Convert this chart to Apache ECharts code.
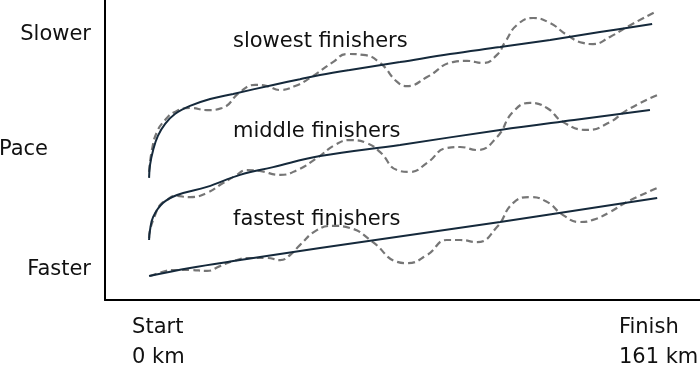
<!DOCTYPE html>
<html>
<head>
<meta charset="utf-8">
<script src="https://cdn.jsdelivr.net/npm/echarts@6/dist/echarts.min.js"></script>
<style>html,body{margin:0;padding:0;background:#fff;}#c{width:700px;height:365px;}</style>
</head>
<body>
<div id="c"></div>
<script>
// ---- data (distance in km, pace in arbitrary units: higher = slower) ----
const seriesNames = ['slowest finishers', 'middle finishers', 'fastest finishers'];

const slowestTrend = [[0,40.7],[0.3,45],[1.3,50],[2.8,54.7],[5.1,58.7],[8.2,62],[13,64.7],[19.4,67],[26.7,68.7],[39.4,71.7],[47.9,73.6],[54.3,75],[63.8,76.7],[79.7,79.3],[95.6,82],[111.5,84.3],[127.4,86.7],[143.2,89.3],[159.8,92]];
const slowestActual = [[0,42.7],[0.9,50],[2.5,56],[5.1,60],[8.2,62.7],[13,64],[18.4,63.3],[23.2,64],[28.9,69.3],[33.7,71.7],[37.5,71.3],[41.6,70],[46.4,71.3],[51.1,74],[58.4,79.3],[62.9,82],[68,81.7],[73.4,79],[78.8,72.7],[81.9,71.3],[88.3,74.3],[96.5,79.3],[101,79.7],[106.1,79],[110.5,81.7],[113.1,86],[116.9,91.7],[122,94],[127.4,92.3],[132.8,88.3],[137.8,85.7],[141,85.3],[146.4,87.7],[151.8,91],[160.7,96]];

const middleTrend = [[0,20],[0.3,23.3],[1.3,27.7],[4.4,32.3],[8.9,35],[18.4,37.7],[28.9,41.7],[39.4,44.3],[54.3,48],[79.7,51.7],[111.5,56.7],[135,60],[159.1,63.3]];
const middleActual = [[0,20.7],[0.3,23.3],[1.9,28.3],[3.5,31.7],[5.7,33.3],[8.2,34.7],[13,34.3],[18.4,35.7],[23.5,39],[27.3,41.3],[31.1,43.3],[35.2,43],[41.6,41.7],[47,43.3],[53.3,47.3],[59.1,51.7],[63.8,53.3],[69.2,52.3],[73.4,49.3],[78.8,43.3],[82.9,42.7],[88.3,45.7],[94.6,50.7],[98.8,51],[104.2,50],[110.5,54.3],[115.6,62.7],[121,65.7],[126.4,64],[131.5,59.3],[139.1,56.7],[146.4,59.3],[151.8,63.3],[161.4,68.3]];

const fastestTrend = [[0,8],[13,10.7],[28.9,13.3],[54.3,17.3],[111.5,26],[161.4,34]];
const fastestActual = [[0.3,8],[4.1,9.3],[7.6,10],[13,10],[18.4,9.7],[22.5,11.3],[26.7,13],[32.1,14],[37.5,14],[41.6,13.3],[44.8,15],[47.9,18.3],[53.3,23.3],[58.4,24.7],[63.8,24],[71.1,19.3],[78.8,12.7],[81.9,12.3],[88.3,15],[94.6,20],[98.8,20],[104.2,19.3],[110.5,24.3],[115.6,32.3],[121,34.3],[126.4,32.7],[131.5,28.3],[136.9,26],[141,26.7],[146.4,29.3],[151.8,32.7],[161.4,37.3]];

const xTickKm = [0, 161];
const xTickTop = ['Start', 'Finish'];
const xTickBottom = ['0 km', '161 km'];
const yTickValues = [10, 88.5];
const yTickLabels = ['Faster', 'Slower'];
const yAxisTitle = 'Pace';

// ---- chart ----
const FONT = 'DejaVu Sans';
const FS = 21;
const TEXT = '#111111';
const TREND = '#15293b';
const ACTUAL = '#767676';

function trend(name, data) {
  return { name: name, type: 'line', data: data, smooth: 0.4, symbol: 'none', z: 3,
    lineStyle: { color: TREND, width: 2 } };
}
function actual(name, data) {
  return { name: name + ' (actual)', type: 'line', data: data, smooth: 0.5, symbol: 'none', z: 2,
    lineStyle: { color: ACTUAL, width: 2.2, type: [7, 4] } };
}

const chart = echarts.init(document.getElementById('c'), null, { renderer: 'canvas' });
chart.setOption({
  animation: false,
  backgroundColor: '#ffffff',
  grid: { left: 105, right: 0, top: 0, bottom: 65, containLabel: false, outerBoundsMode: 'none' },
  xAxis: {
    type: 'value', min: -14, max: 175,
    axisLine: { show: true, onZero: false, lineStyle: { color: '#000', width: 2 } },
    axisTick: { show: false },
    splitLine: { show: false },
    axisLabel: {
      customValues: xTickKm,
      margin: 13,
      formatter: function (v) {
        const i = xTickKm.indexOf(v);
        if (i < 0) return '';
        const k = i === 0 ? 's' : 'f';
        return '{' + k + '|' + xTickTop[i] + '}\n{' + k + '|' + xTickBottom[i] + '}';
      },
      rich: {
        s: { fontFamily: FONT, fontSize: FS, color: TEXT, width: 52, align: 'left', lineHeight: 30, padding: [0, 0, 0, 18] },
        f: { fontFamily: FONT, fontSize: FS, color: TEXT, width: 74, align: 'left', lineHeight: 30 }
      }
    }
  },
  yAxis: {
    type: 'value', min: 0, max: 100,
    axisLine: { show: true, onZero: false, lineStyle: { color: '#000', width: 2 } },
    axisTick: { show: false },
    splitLine: { show: false },
    axisLabel: {
      customValues: yTickValues,
      margin: 14,
      fontFamily: FONT, fontSize: FS, color: TEXT,
      formatter: function (v) {
        const i = yTickValues.indexOf(v);
        return i < 0 ? '' : yTickLabels[i];
      }
    },
    name: yAxisTitle,
    nameLocation: 'middle',
    nameRotate: 0,
    nameGap: 57,
    nameMoveOverlap: false,
    nameTextStyle: { fontFamily: FONT, fontSize: FS, color: TEXT, align: 'right' }
  },
  graphic: [
    { type: 'text', left: 233, top: 31, style: { text: seriesNames[0], font: FS + 'px "' + FONT + '"', fill: TEXT } },
    { type: 'text', left: 233, top: 121, style: { text: seriesNames[1], font: FS + 'px "' + FONT + '"', fill: TEXT } },
    { type: 'text', left: 233, top: 209, style: { text: seriesNames[2], font: FS + 'px "' + FONT + '"', fill: TEXT } }
  ],
  series: [
    actual(seriesNames[0], slowestActual), trend(seriesNames[0], slowestTrend),
    actual(seriesNames[1], middleActual), trend(seriesNames[1], middleTrend),
    actual(seriesNames[2], fastestActual), trend(seriesNames[2], fastestTrend)
  ]
});
</script>
</body>
</html>
